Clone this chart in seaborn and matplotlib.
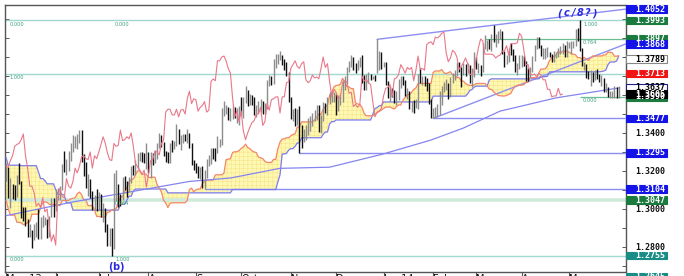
import numpy as np
import pandas as pd
import matplotlib
matplotlib.use("Agg")
import matplotlib.pyplot as plt
import seaborn as sns
from matplotlib.transforms import blended_transform_factory, ScaledTranslation
from matplotlib.patches import Rectangle

# ---------------- data: daily bars, 1 May 2013 -> 3 Jun 2014 (weekdays) ----------------
close = [
    # May 13
    1.3170, 1.3070, 1.3115, 1.3110, 1.3075, 1.3170, 1.3140, 1.2995, 1.2980, 1.2930, 1.2885, 1.2885,
    1.2835, 1.2890, 1.2910, 1.2860, 1.2930, 1.2935, 1.2935, 1.2860, 1.2955, 1.3000, 1.2995,
    # Jun
    1.3075, 1.3090, 1.3095, 1.3225, 1.3220, 1.3255, 1.3280, 1.3330, 1.3340, 1.3345,
    1.3365, 1.3395, 1.3280, 1.3215, 1.3120, 1.3120, 1.3085, 1.3015, 1.3030, 1.3010,
    # Jul
    1.3060, 1.2985, 1.3000, 1.2910, 1.2830, 1.2865, 1.2810, 1.3060, 1.3110, 1.3065, 1.3060, 1.3160,
    1.3120, 1.3110, 1.3145, 1.3215, 1.3190, 1.3225, 1.3275, 1.3280, 1.3265, 1.3260, 1.3300,
    # Aug
    1.3215, 1.3280, 1.3265, 1.3300, 1.3340, 1.3380, 1.3345, 1.3295, 1.3260, 1.3255, 1.3345,
    1.3330, 1.3335, 1.3415, 1.3360, 1.3365, 1.3380, 1.3370, 1.3400, 1.3330, 1.3240, 1.3220,
    # Sep
    1.3205, 1.3180, 1.3205, 1.3115, 1.3180, 1.3255, 1.3260, 1.3305, 1.3300, 1.3285, 1.3345,
    1.3360, 1.3510, 1.3525, 1.3525, 1.3495, 1.3495, 1.3525, 1.3485, 1.3520, 1.3525,
    # Oct
    1.3500, 1.3580, 1.3620, 1.3555, 1.3580, 1.3575, 1.3515, 1.3535, 1.3545, 1.3565, 1.3510, 1.3520,
    1.3670, 1.3685, 1.3675, 1.3780, 1.3780, 1.3800, 1.3805, 1.3780, 1.3740, 1.3715, 1.3585,
    # Nov
    1.3485, 1.3515, 1.3460, 1.3515, 1.3410, 1.3365, 1.3400, 1.3430, 1.3455, 1.3465, 1.3500,
    1.3500, 1.3535, 1.3440, 1.3460, 1.3555, 1.3520, 1.3575, 1.3580, 1.3590, 1.3590,
    # Dec
    1.3505, 1.3590, 1.3590, 1.3665, 1.3670, 1.3740, 1.3760, 1.3780, 1.3750, 1.3740, 1.3765,
    1.3775, 1.3680, 1.3665, 1.3675, 1.3705, 1.3690, 1.3695, 1.3685, 1.3740, 1.3800, 1.3745,
    # Jan 14
    1.3765, 1.3670, 1.3590, 1.3630, 1.3615, 1.3575, 1.3590, 1.3665, 1.3675, 1.3670, 1.3610, 1.3615,
    1.3540, 1.3550, 1.3535, 1.3550, 1.3700, 1.3675, 1.3680, 1.3665, 1.3655, 1.3565, 1.3485,
    # Feb
    1.3510, 1.3515, 1.3530, 1.3595, 1.3635, 1.3640, 1.3655, 1.3590, 1.3685, 1.3690,
    1.3710, 1.3760, 1.3740, 1.3715, 1.3745, 1.3735, 1.3745, 1.3675, 1.3730, 1.3805,
    # Mar
    1.3735, 1.3740, 1.3730, 1.3865, 1.3875, 1.3880, 1.3865, 1.3905, 1.3900, 1.3910, 1.3925,
    1.3930, 1.3825, 1.3775, 1.3795, 1.3835, 1.3825, 1.3800, 1.3735, 1.3750, 1.3770,
    # Apr
    1.3795, 1.3765, 1.3710, 1.3705, 1.3730, 1.3790, 1.3850, 1.3895, 1.3885, 1.3815, 1.3815,
    1.3815, 1.3815, 1.3810, 1.3795, 1.3805, 1.3810, 1.3830, 1.3830, 1.3860, 1.3810, 1.3870,
    # May 14 + Jun
    1.3870, 1.3870, 1.3875, 1.3925, 1.3910, 1.3840, 1.3760, 1.3760, 1.3710, 1.3705, 1.3710, 1.3695,
    1.3715, 1.3705, 1.3680, 1.3680, 1.3630, 1.3630, 1.3590, 1.3595, 1.3595, 1.3635, 1.3600, 1.3605,
]
high = [
    1.3243, 1.3220, 1.3165, 1.3130, 1.3125, 1.3180, 1.3240, 1.3145, 1.3010, 1.3010, 1.2950, 1.2920,
    1.2890, 1.2920, 1.2930, 1.2998, 1.2960, 1.2970, 1.2960, 1.2945, 1.2965, 1.3060, 1.3060,
    1.3105, 1.3110, 1.3120, 1.3235, 1.3305, 1.3265, 1.3305, 1.3350, 1.3390, 1.3385,
    1.3395, 1.3415, 1.3415, 1.3290, 1.3245, 1.3185, 1.3160, 1.3095, 1.3075, 1.3105,
    1.3090, 1.3080, 1.3030, 1.3005, 1.2920, 1.2900, 1.2900, 1.3190, 1.3206, 1.3130, 1.3080, 1.3170,
    1.3175, 1.3150, 1.3170, 1.3225, 1.3230, 1.3260, 1.3295, 1.3300, 1.3300, 1.3295, 1.3345,
    1.3300, 1.3300, 1.3295, 1.3310, 1.3345, 1.3400, 1.3390, 1.3355, 1.3305, 1.3300, 1.3350,
    1.3365, 1.3360, 1.3450, 1.3420, 1.3390, 1.3395, 1.3395, 1.3420, 1.3400, 1.3345, 1.3260,
    1.3240, 1.3225, 1.3220, 1.3225, 1.3205, 1.3265, 1.3285, 1.3320, 1.3320, 1.3320, 1.3385,
    1.3370, 1.3530, 1.3570, 1.3545, 1.3535, 1.3530, 1.3540, 1.3535, 1.3530, 1.3540,
    1.3590, 1.3590, 1.3645, 1.3625, 1.3605, 1.3600, 1.3590, 1.3545, 1.3570, 1.3580, 1.3570, 1.3560,
    1.3680, 1.3705, 1.3700, 1.3790, 1.3815, 1.3815, 1.3832, 1.3810, 1.3790, 1.3775, 1.3720,
    1.3590, 1.3525, 1.3530, 1.3525, 1.3540, 1.3440, 1.3420, 1.3440, 1.3480, 1.3490, 1.3505,
    1.3520, 1.3545, 1.3545, 1.3495, 1.3565, 1.3560, 1.3590, 1.3615, 1.3620, 1.3615,
    1.3605, 1.3600, 1.3605, 1.3680, 1.3700, 1.3750, 1.3780, 1.3810, 1.3800, 1.3770, 1.3785,
    1.3800, 1.3810, 1.3705, 1.3710, 1.3720, 1.3710, 1.3700, 1.3705, 1.3893, 1.3830, 1.3825,
    1.3775, 1.3775, 1.3675, 1.3650, 1.3635, 1.3625, 1.3620, 1.3685, 1.3700, 1.3700, 1.3680, 1.3635,
    1.3620, 1.3570, 1.3575, 1.3580, 1.3710, 1.3740, 1.3700, 1.3700, 1.3690, 1.3665, 1.3580,
    1.3530, 1.3535, 1.3555, 1.3620, 1.3645, 1.3670, 1.3685, 1.3665, 1.3695, 1.3715,
    1.3730, 1.3775, 1.3775, 1.3745, 1.3770, 1.3765, 1.3770, 1.3760, 1.3740, 1.3825,
    1.3800, 1.3770, 1.3760, 1.3875, 1.3915, 1.3890, 1.3895, 1.3920, 1.3967, 1.3920, 1.3935,
    1.3945, 1.3935, 1.3830, 1.3810, 1.3850, 1.3875, 1.3840, 1.3810, 1.3770, 1.3810,
    1.3810, 1.3805, 1.3780, 1.3740, 1.3745, 1.3805, 1.3865, 1.3905, 1.3905, 1.3865, 1.3850,
    1.3845, 1.3855, 1.3825, 1.3815, 1.3830, 1.3825, 1.3850, 1.3860, 1.3875, 1.3865, 1.3885,
    1.3880, 1.3885, 1.3885, 1.3950, 1.3955, 1.3993, 1.3850, 1.3775, 1.3765, 1.3725, 1.3730, 1.3720,
    1.3730, 1.3735, 1.3710, 1.3705, 1.3690, 1.3665, 1.3640, 1.3620, 1.3620, 1.3645, 1.3640, 1.3645,
]
low = [
    1.3150, 1.3060, 1.3005, 1.3055, 1.3045, 1.3065, 1.3130, 1.2955, 1.2935, 1.2910, 1.2855, 1.2855,
    1.2795, 1.2835, 1.2855, 1.2840, 1.2840, 1.2905, 1.2915, 1.2850, 1.2855, 1.2960, 1.2960,
    1.2990, 1.3045, 1.3045, 1.3100, 1.3195, 1.3180, 1.3200, 1.3255, 1.3300, 1.3320,
    1.3315, 1.3345, 1.3250, 1.3175, 1.3110, 1.3070, 1.3060, 1.2995, 1.2995, 1.2990,
    1.2995, 1.2960, 1.2930, 1.2880, 1.2805, 1.2805, 1.2755, 1.2790, 1.3040, 1.3010, 1.3015, 1.3050,
    1.3100, 1.3065, 1.3090, 1.3135, 1.3180, 1.3180, 1.3210, 1.3255, 1.3250, 1.3240, 1.3210,
    1.3190, 1.3165, 1.3230, 1.3240, 1.3265, 1.3320, 1.3325, 1.3280, 1.3250, 1.3240, 1.3240,
    1.3300, 1.3315, 1.3330, 1.3340, 1.3310, 1.3345, 1.3360, 1.3345, 1.3320, 1.3230, 1.3205,
    1.3190, 1.3165, 1.3160, 1.3110, 1.3105, 1.3165, 1.3225, 1.3235, 1.3265, 1.3255, 1.3295,
    1.3325, 1.3335, 1.3490, 1.3500, 1.3470, 1.3465, 1.3475, 1.3480, 1.3455, 1.3440,
    1.3495, 1.3480, 1.3560, 1.3540, 1.3545, 1.3545, 1.3495, 1.3485, 1.3505, 1.3510, 1.3500, 1.3500,
    1.3525, 1.3650, 1.3655, 1.3660, 1.3740, 1.3765, 1.3785, 1.3760, 1.3730, 1.3700, 1.3565,
    1.3475, 1.3465, 1.3435, 1.3440, 1.3295, 1.3320, 1.3355, 1.3365, 1.3390, 1.3410, 1.3435,
    1.3465, 1.3470, 1.3405, 1.3400, 1.3465, 1.3505, 1.3495, 1.3555, 1.3565, 1.3565,
    1.3495, 1.3515, 1.3545, 1.3565, 1.3625, 1.3660, 1.3720, 1.3745, 1.3730, 1.3715, 1.3730,
    1.3745, 1.3665, 1.3625, 1.3625, 1.3665, 1.3680, 1.3685, 1.3675, 1.3715, 1.3730, 1.3735,
    1.3745, 1.3655, 1.3585, 1.3570, 1.3590, 1.3560, 1.3550, 1.3575, 1.3635, 1.3655, 1.3595, 1.3580,
    1.3525, 1.3510, 1.3505, 1.3530, 1.3525, 1.3665, 1.3655, 1.3650, 1.3620, 1.3555, 1.3480,
    1.3477, 1.3480, 1.3485, 1.3495, 1.3550, 1.3615, 1.3625, 1.3580, 1.3590, 1.3665,
    1.3680, 1.3700, 1.3720, 1.3640, 1.3705, 1.3700, 1.3715, 1.3665, 1.3640, 1.3695,
    1.3735, 1.3715, 1.3700, 1.3720, 1.3840, 1.3830, 1.3840, 1.3830, 1.3880, 1.3855, 1.3875,
    1.3895, 1.3815, 1.3750, 1.3765, 1.3775, 1.3810, 1.3780, 1.3720, 1.3705, 1.3735,
    1.3750, 1.3755, 1.3675, 1.3675, 1.3695, 1.3720, 1.3780, 1.3840, 1.3845, 1.3805, 1.3790,
    1.3790, 1.3800, 1.3800, 1.3775, 1.3775, 1.3795, 1.3800, 1.3815, 1.3815, 1.3800, 1.3800,
    1.3850, 1.3815, 1.3850, 1.3860, 1.3885, 1.3830, 1.3755, 1.3730, 1.3690, 1.3685, 1.3650, 1.3670,
    1.3680, 1.3685, 1.3670, 1.3645, 1.3615, 1.3615, 1.3590, 1.3585, 1.3585, 1.3585, 1.3585, 1.3585,
]
# look-back highs / lows (14 Jan - 30 Apr 2013) that feed the Ichimoku cloud
pre_high = [
    1.3405, 1.3380, 1.3320, 1.3385, 1.3405, 1.3340, 1.3345, 1.3345, 1.3400, 1.3480, 1.3480, 1.3505, 1.3590, 1.3600,
    1.3711, 1.3645, 1.3560, 1.3575, 1.3555, 1.3415, 1.3420, 1.3465, 1.3520, 1.3460, 1.3400,
    1.3390, 1.3410, 1.3400, 1.3300, 1.3245, 1.3320, 1.3110, 1.3155, 1.3170,
    1.3080, 1.3060, 1.3060, 1.3075, 1.3140, 1.3110, 1.3055, 1.3075, 1.3040, 1.3005, 1.3110,
    1.2980, 1.2960, 1.2960, 1.2965, 1.3010, 1.3050, 1.2880, 1.2865, 1.2840, 1.2840,
    1.2880, 1.2855, 1.2870, 1.2955, 1.3040, 1.3055, 1.3085, 1.3105, 1.3200, 1.3165,
    1.3150, 1.3200, 1.3190, 1.3090, 1.3115, 1.3075, 1.3060, 1.3035, 1.3055, 1.3085, 1.3120, 1.3175,
]
pre_low = [
    1.3310, 1.3260, 1.3255, 1.3270, 1.3310, 1.3285, 1.3260, 1.3280, 1.3285, 1.3365, 1.3420, 1.3425, 1.3470, 1.3535,
    1.3560, 1.3490, 1.3470, 1.3505, 1.3385, 1.3345, 1.3355, 1.3370, 1.3435, 1.3335, 1.3315,
    1.3320, 1.3325, 1.3270, 1.3145, 1.3145, 1.3020, 1.3020, 1.3045, 1.3045,
    1.2965, 1.2995, 1.2995, 1.2990, 1.3015, 1.2955, 1.2985, 1.3005, 1.2945, 1.2935, 1.2975,
    1.2880, 1.2840, 1.2855, 1.2880, 1.2880, 1.2840, 1.2830, 1.2750, 1.2780, 1.2795,
    1.2810, 1.2795, 1.2780, 1.2745, 1.2880, 1.2990, 1.3015, 1.3045, 1.3080, 1.3070,
    1.3030, 1.3030, 1.3015, 1.3005, 1.3025, 1.2995, 1.2955, 1.2950, 1.2980, 1.2995, 1.3025, 1.3060,
]

month_labels = ["May 13", "Jun", "Jul", "Aug", "Sep", "Oct", "Nov", "Dec",
                "Jan 14", "Feb", "Mar", "Apr", "May"]
month_keys = ["2013-05", "2013-06", "2013-07", "2013-08", "2013-09", "2013-10", "2013-11",
              "2013-12", "2014-01", "2014-02", "2014-03", "2014-04", "2014-05"]

# long moving average
sma_idx = [0, 30, 60, 85, 104, 127, 150, 175, 197, 212, 229, 255, 284]
sma_val = [1.2965, 1.3035, 1.3095, 1.3145, 1.3163, 1.3214, 1.3220, 1.3290, 1.3363, 1.3426,
           1.3515, 1.3585, 1.3637]

teal_levels = [1.3993, 1.3713, 1.2755]
band_level = 1.3047
hline_levels = [1.3104, 1.3295, 1.3477]
hline_start = [92, 136, 198]
trend_start_idx = [172, 198]
trend_start_val = [1.3893, 1.3477]
trend_end_val = [1.4052, 1.3868]
fib_short_levels = [1.3897, 1.3590]
fib_short_start = [222, 266]
fib_text_idx = [1.8, 1.8, 1.8, 50.5, 50.5, 50.5, 267.5, 267.5, 267.5]
fib_text_val = [1.3993, 1.3713, 1.2755, 1.3993, 1.3047, 1.2755, 1.3993, 1.3897, 1.3590]
fib_text = ["0.000", "1.000", "0.000", "0.000", "0.764", "1.000", "1.000", "0.764", "0.000"]

label_vals = [1.4052, 1.3993, 1.3897, 1.3868, 1.3789, 1.3713, 1.3637, 1.3590, 1.3605,
              1.3477, 1.3295, 1.3104, 1.3047, 1.2755, 1.2645]
label_fc = ["#1414e6", "#1b7a3e", "#1b7a3e", "#1414e6", "#ffffff", "#f01414", "#ffffff", "#1b7a3e",
            "#000000", "#1414e6", "#1414e6", "#1414e6", "#1b7a3e", "#1a8c86", "#1a8c86"]
label_ec = ["#1414e6", "#1b7a3e", "#1b7a3e", "#1414e6", "#888888", "#f01414", "#20208a", "#1b7a3e",
            "#000000", "#1414e6", "#1414e6", "#1414e6", "#1b7a3e", "#1a8c86", "#1a8c86"]
label_tc = ["white", "white", "white", "white", "black", "white", "black", "white",
            "white", "white", "white", "white", "white", "white", "white"]
plain_ticks = [1.2800, 1.3000, 1.3200, 1.3400]

# ---------------- derived series ----------------
n = len(close)
idx = np.arange(n)
dates = pd.bdate_range("2013-05-01", periods=n)
opens = [close[0]] + close[:-1]

allH = pd.Series(pre_high + high)
allL = pd.Series(pre_low + low)
npre = len(pre_high)
tenkan = (allH.rolling(9).max() + allL.rolling(9).min()) / 2
kijun = (allH.rolling(26).max() + allL.rolling(26).min()) / 2
span_a = ((tenkan + kijun) / 2).shift(26).iloc[npre:].to_numpy()
span_b = ((allH.rolling(52).max() + allL.rolling(52).min()) / 2).shift(26).iloc[npre:].to_numpy()

# ---------------- figure ----------------
sns.set_theme(style="white")
plt.rcParams["font.family"] = ["DejaVu Sans"]
plt.rcParams["hatch.linewidth"] = 0.3

W, H = 684, 276
fig = plt.figure(figsize=(W / 100, H / 100), dpi=100)
fig.patch.set_facecolor("white")
L, R, T, B = 5, 625.5, 5, 271.5
ax = fig.add_axes([L / W, 1 - B / H, (R - L) / W, (B - T) / H])
ax.set_facecolor("white")

PX = 1 / 1900.0
ymin = 1.3 - (B - 209) * PX
ymax = 1.3 + (209 - T) * PX
pxx = 2.157
xmin = -0.5
xmax = xmin + (R - L) / pxx

# cloud
ax.fill_between(idx, span_a, span_b, facecolor="#fff8b4", edgecolor="#f3e07a",
                hatch="++++", linewidth=0, zorder=1)

# fib / horizontal levels
for v in teal_levels:
    ax.axhline(v, color="#a3d8cf", lw=1.0, zorder=2)
ax.axhline(band_level, color="#cfeadb", lw=2.6, zorder=2)
for v, s in zip(fib_short_levels, fib_short_start):
    ax.hlines(v, s, xmax, color="#6cbf95", lw=0.9, zorder=2)
for v, s in zip(hline_levels, hline_start):
    ax.hlines(v, s, xmax, color="#8e8ef2", lw=1.0, zorder=2)
for s, v0, v1 in zip(trend_start_idx, trend_start_val, trend_end_val):
    sns.lineplot(x=[s, xmax], y=[v0, v1], ax=ax, color="#8e8ef2", lw=1.0, zorder=2)

# ichimoku lines
sns.lineplot(x=idx, y=span_b, ax=ax, color="#7b7bef", lw=0.9, zorder=3)
sns.lineplot(x=idx, y=span_a, ax=ax, color="#f4866a", lw=0.9, zorder=3)
sns.lineplot(x=sma_idx, y=sma_val, ax=ax, color="#8585f0", lw=0.9, zorder=3)

# price bars
cols = ["#8c8c8c" if c >= o else "#101010" for c, o in zip(close, opens)]
ax.vlines(idx, low, high, colors=cols, lw=1.0, zorder=4)

# lagging span
sns.lineplot(x=idx[:-26], y=close[26:], ax=ax, color="#e8788a", lw=0.8, zorder=5)

ax.set_xlim(xmin, xmax)
ax.set_ylim(ymin, ymax)

# axes styling
for side in ["top", "left", "bottom", "right"]:
    ax.spines[side].set_color("#555555")
    ax.spines[side].set_linewidth(1.0)

month_pos = [int(np.argmax(dates.strftime("%Y-%m") == k)) for k in month_keys]
ax.set_xticks(month_pos)
ax.set_xticklabels(month_labels, fontsize=7, color="#111111")
offset = ScaledTranslation(2 / 100, 0, fig.dpi_scale_trans)
for lbl in ax.get_xticklabels():
    lbl.set_horizontalalignment("left")
    lbl.set_transform(lbl.get_transform() + offset)
ax.tick_params(axis="x", bottom=True, direction="out", length=8, width=0.8,
               color="#555555", pad=-6)
ax.set_yticks(np.round(np.arange(1.27, 1.41, 0.01), 2))
ax.tick_params(axis="y", left=True, right=True, direction="in", length=3, width=0.7,
               color="#555555", labelleft=False, labelright=False)
ax.grid(False)

trf = blended_transform_factory(fig.transFigure, ax.transData)

# right-hand price labels
for v in plain_ticks:
    fig.text(665 / W, v, f"{v:.4f}", transform=trf, ha="right", va="center",
             fontsize=6, family="DejaVu Sans Mono", color="#111111", fontweight="bold")
for v, fc, ec, tc in zip(label_vals, label_fc, label_ec, label_tc):
    fig.add_artist(Rectangle((626 / W, v - 3.8 * PX), 41 / W, 7.6 * PX, transform=trf,
                             facecolor=fc, edgecolor=ec, lw=0.8))
    fig.text(665 / W, v, f"{v:.4f}", transform=trf, ha="right", va="center",
             fontsize=6, family="DejaVu Sans Mono", color=tc, fontweight="bold")

# fib ratio texts
for xi, v, s in zip(fib_text_idx, fib_text_val, fib_text):
    ax.text(xi, v - 1.2 * PX, s, ha="left", va="top", fontsize=3.6, color="#3a9f7c", zorder=6)

# wave labels (letter spaced)
def spaced(x0_px, yv, s, step, **kw):
    for k, ch in enumerate(s):
        fig.text((x0_px + k * step) / W, yv, ch, transform=trf, ha="center", va="center", **kw)

spaced(559, 1.3 + (209 - 13) * PX, "(c/8?)", 7.2, fontsize=7, color="#2a2ae0",
       fontweight="bold", style="italic")
spaced(110, 1.3 + (209 - 267) * PX, "(b)", 5.5, fontsize=7, color="#2a2ae0",
       fontweight="bold")

fig.savefig("out.png", dpi=100)
